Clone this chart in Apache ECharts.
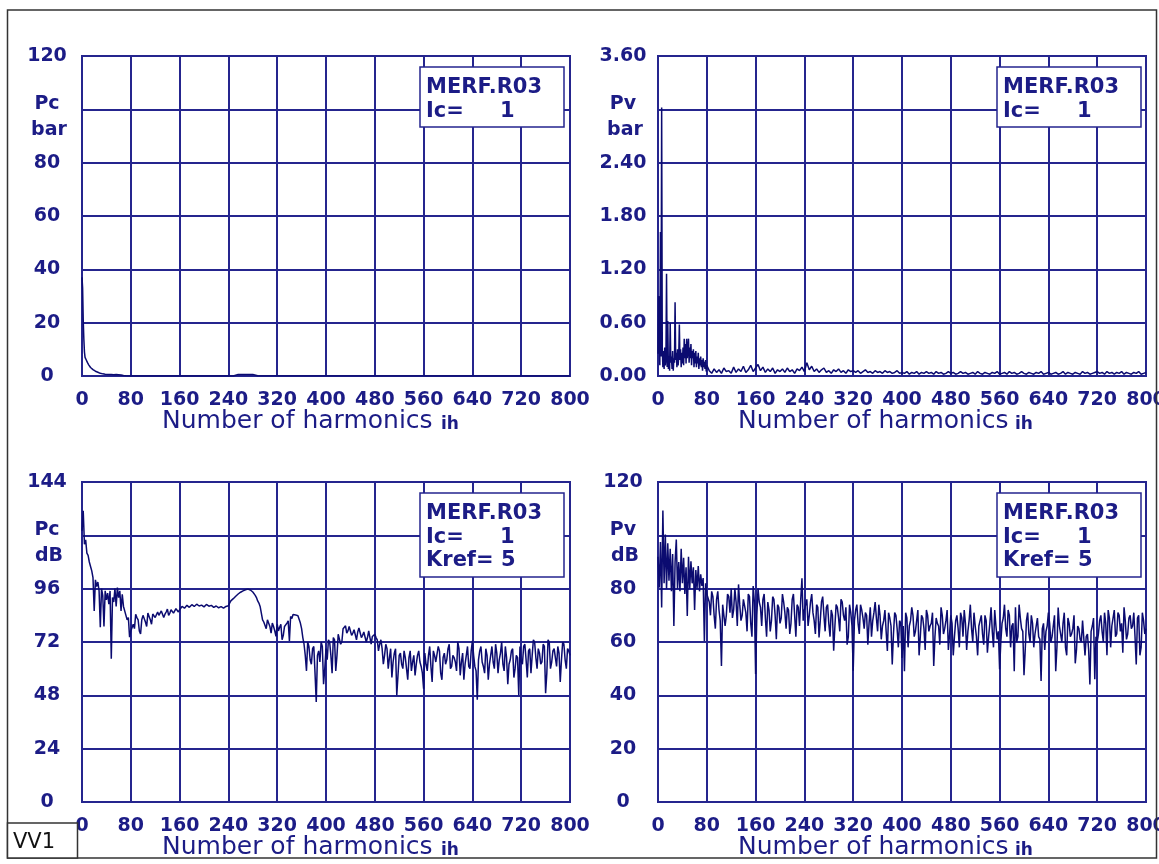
<!DOCTYPE html>
<html><head><meta charset="utf-8">
<script src="https://cdn.jsdelivr.net/npm/echarts@6/dist/echarts.min.js"></script>
<style>html,body{margin:0;padding:0;background:#fff}#c{width:1159px;height:864px}</style>
</head><body><div id="c"></div>
<script>
// ---------------- DATA ----------------
// Tick labels shown on each y axis (the hidden tick carries the unit text instead)
const pcBarLabels = [0, 20, 40, 60, 80, 120];
const pvBarLabels = [0, 0.6, 1.2, 1.8, 2.4, 3.6];
const pcDbLabels  = [0, 24, 48, 72, 96, 144];
const pvDbLabels  = [0, 20, 40, 60, 80, 120];

// Pc [bar] (top-left): harmonic numbers and amplitudes
const pcBarH = [0,1,2,3,4,5,6,7,8,9,10,11,12,13,14,15,16,17,18,19,20,22,24,26,28,30,32,34,36,38,40,44,48,52,56,60,64,68,72,80,248,256,264,272,280,288,800];
const pcBarV = [37,33,21,14,9,7,6.5,6,5.5,5,4.6,4.2,3.8,3.5,3.2,3,2.8,2.6,2.4,2.2,2,1.8,1.6,1.4,1.2,1,0.9,0.8,0.8,0.7,0.7,0.6,0.6,0.5,0.6,0.5,0.4,0.2,0.1,0,0,0.6,0.6,0.6,0.6,0.1,0];

// Pv [bar] (top-right): harmonics 0..80 every 1, then 84..800 every 4
const pvBarHead = [0.25,0.9,0.35,0.12,1.62,0.22,3.02,0.3,0.1,0.28,
  0.08,0.32,0.12,0.2,1.15,0.1,0.62,0.08,0.22,0.06,
  0.6,0.15,0.22,0.08,0.28,0.06,0.2,0.15,0.83,0.18,
  0.26,0.1,0.3,0.12,0.22,0.58,0.18,0.3,0.1,0.26,
  0.14,0.32,0.12,0.42,0.2,0.36,0.14,0.42,0.2,0.3,
  0.42,0.15,0.32,0.2,0.36,0.12,0.28,0.2,0.3,0.1,
  0.26,0.14,0.28,0.1,0.22,0.14,0.26,0.08,0.2,0.12,
  0.22,0.1,0.18,0.06,0.2,0.1,0.16,0.08,0.18,0.05,
  0.12];
const pvBarTail = [0.06,0.03,0.08,0.04,0.07,0.03,0.09,0.05,0.06,0.03,0.1,0.04,0.08,0.05,0.11,0.04,0.07,0.12,0.05,0.09,
  0.13,0.06,0.1,0.04,0.08,0.05,0.09,0.03,0.07,0.05,0.08,0.04,0.09,0.05,0.07,0.03,0.08,0.06,0.1,0.05,
  0.15,0.07,0.11,0.05,0.08,0.04,0.07,0.09,0.04,0.06,0.03,0.07,0.05,0.08,0.04,0.06,0.03,0.07,0.05,0.06,
  0.04,0.06,0.03,0.05,0.07,0.04,0.05,0.03,0.06,0.04,0.05,0.03,0.06,0.04,0.05,0.03,0.04,0.06,0.03,0.04,
  0.03,0.05,0.02,0.04,0.03,0.05,0.02,0.04,0.03,0.05,0.03,0.04,0.02,0.05,0.03,0.04,0.02,0.03,0.05,0.03,
  0.04,0.02,0.03,0.05,0.03,0.04,0.02,0.03,0.04,0.02,0.05,0.03,0.02,0.04,0.03,0.02,0.04,0.03,0.05,0.02,
  0.03,0.04,0.02,0.05,0.03,0.04,0.02,0.03,0.05,0.03,0.02,0.04,0.03,0.02,0.04,0.03,0.05,0.02,0.03,0.04,
  0.02,0.03,0.04,0.02,0.03,0.05,0.02,0.04,0.03,0.02,0.04,0.03,0.02,0.05,0.03,0.04,0.02,0.03,0.04,0.05,
  0.03,0.04,0.02,0.05,0.03,0.04,0.02,0.04,0.03,0.05,0.02,0.04,0.03,0.02,0.04,0.03,0.05,0.02,0.03,0.04];

// Pc [dB] (bottom-left): harmonics 0..80 every 2, 84..800 every 4, plus 86..798 every 4
const pcDbHead = [122,131,116,118,112,111,108,106,104,101,
  86,100,97,99,95,78.6,96,93,79,95,
  91,94,89,95,64.5,92,90,96,88,96.5,
  92,95,86,93.5,88,86,84,82,83,74.2,
  77];
const pcDbTail = [80,84.5,82,75.6,84,81,85,82,84.6,83,85.5,84,86,84.5,86.8,85,87.2,86,87.6,86.5,
  88,87.2,88.5,87.6,88.8,88,89,88.2,88.6,87.8,88.9,88.1,88.5,87.6,88.2,87.4,87.9,87.2,88,88.3,
  90.5,91.5,92.6,93.6,94.4,95,95.5,95.8,95.4,94.5,93,90.5,88,82,80.5,82,79,80.5,77,80,
  78.6,73,79,80.5,72.5,82.5,84,84.6,83,78,71,59,70,62,70,45,68,72,53,69,
  73,66,74,59,75.5,71,78,79.3,77,78.5,76,78,76.5,77.8,75,77,74,76.5,74.5,75.5,
  73,71,69,66,69,65,56,67,48,66,62,68,60,65,59,66,62,68,61,51,
  62,66,61,68,63,70,58,65,62,69,60,66,63,72,57,67,62,70,60,72.5,
  61,46,68,63,58,66,62,70,60,67,64,72,59,65,62,68,56,66,48,63,
  70,64,68,58,73,65,69,62,71,49,73,60,68,65,70,54,72,64,69,66];
const pcDbMid = [78,83,77,82,84,79,83.5,80,85,82.5,84,86,83,85.5,84,86.5,85,87,85.5,
  87,88.6,87.4,89,87.8,88.5,87.9,89.2,88,88.7,87.5,88.4,87.8,88.6,87.3,88.3,87.6,88.4,87.5,88.8,
  89.5,91,92,93.2,94,94.8,95.4,95.8,95.6,95,93.8,92,89.5,85,81,78,81.5,76,79,74.5,
  77,80,75,79,81.5,83.5,84.4,84.2,83.8,80.5,74,66,72,64,69,58,66,63,70,60,
  64,72,58,73,66,76,72,78.5,76,79,75,77.5,73,78.3,74,76.5,72,77,71,74,
  74,68,73,62,71,60,69,63,69,57,67,60,65,55,68,63,57,66,63,58,
  67,59,70,54,66,63,68,55,67,64,71,61,65,59,69,63,55,66,61,68,
  66,59,64,70,61,69,55,66,63,71,58,67,62,70,53,64,69,60,65,70,
  62,71,56,69,66,72,60,67,63,70,58,72,63,69,61,67,64,71,60,68];

// Pv [dB] (bottom-right): harmonics 0..80 every 2, 84..800 every 4, plus 86..798 every 4
const pvDbHead = [92,80.4,97.5,72.9,109.3,82,100.3,80,97,83,
  95,79,93,66,90,98.4,80,90,79,95,
  82,91.6,78,88,69.8,92,80,90.3,82,88,
  72,87,80,88.5,79,85.4,81,84,60.4,82,
  78];
const pvDbTail = [75,79,70,76,72,51,74,70,77,80,72,75,81.6,68,76,71,78,67,81,48,
  80,73,76,69,75,64,77,70,74,67,78,71,73,63,76,70,74,66,83.9,72,
  76,70,78,68,74,61.7,75,70,73,67,72,56.7,74,69,76,70,73,62,71,49.2,
  72,67,74,69,71,59,73,68,75,64,70,66,72,56.6,69,51.6,71,65,68,54,
  49,69,66,73,62,68,55,70,65,72,64,67,51,69,66,73,63,68,57,70,
  55,68,65,71,62,67,64,74,60,66,55,68,63,70,56,67,64,72,61,49.8,
  67,74,62,70,66,49,60,74,65,47.5,68,63,70,58,66,62,45.4,67,64,71,
  60,66,49,72.9,63,67,58,69,62,65,52,66,61,68,55,63,44.1,66,46,60,
  68,64,71,55,69,66,72,63,70,67,73,61,69,65,71,51.6,70,58,68,65];
const pvDbMid = [70,77,65,79,68,74,66,78,71,69,80,66,74,70,76,64,77,62,75,
  70,75,66,78,62,72,68,76,61,73,69,75,65,72,67,78,62,73,76,68,
  72,66,75,71,63,73,68,77,64,74,62,70,66,73,64,75,68,59,74,66,
  68,74,63,72,65,70,67,62,71,69,74,61,68,64,71,66,63,70,58,67,
  66,71,58,68,70,64,72,62,69,57,70,66,71,62,67,59,70,65,72,63,
  67,62,70,58,69,72,57,68,65,71,62,66,70,59,68,62,73,58,66,64,
  60,69,65,72,58,67,73,62,69,64,57,71,60,67,63,69,61,65,57,66,
  67,62,70,58,66,60,71,55,67,63,70,57,65,60,68,62,57,64,69,62,
  63,70,60,67,72,58,66,62,71,64,56,68,63,70,66,62,69,55,71,63];

// ---------------- BUILD ----------------
function seg(start, step, vals) { return vals.map((v, i) => [start + i * step, v]); }
function byH(a, b) { return a[0] - b[0]; }
const pcBarData = pcBarH.map((h, i) => [h, pcBarV[i]]);
const pvBarData = seg(0, 1, pvBarHead).concat(seg(84, 4, pvBarTail));
const pcDbData  = seg(0, 2, pcDbHead).concat(seg(84, 4, pcDbTail), seg(86, 4, pcDbMid)).sort(byH);
const pvDbData  = seg(0, 2, pvDbHead).concat(seg(84, 4, pvDbTail), seg(86, 4, pvDbMid)).sort(byH);

const NAVY = '#25258e', TXT = '#1c1c86', LINE = '#0b0b70';
const FONT = '"DejaVu Sans", "Liberation Sans", sans-serif';

const panels = [
  {left: 82,  top: 56,  max: 120, interval: 20,  labels: pcBarLabels, dec: 0, data: pcBarData, units: ['Pc','bar'], kref: false},
  {left: 658, top: 56,  max: 3.6, interval: 0.6, labels: pvBarLabels, dec: 2, data: pvBarData, units: ['Pv','bar'], kref: false},
  {left: 82,  top: 482, max: 144, interval: 24,  labels: pcDbLabels,  dec: 0, data: pcDbData,  units: ['Pc','dB'],  kref: true},
  {left: 658, top: 482, max: 120, interval: 20,  labels: pvDbLabels,  dec: 0, data: pvDbData,  units: ['Pv','dB'],  kref: true}
];
const PW = 488, PH = 320;

const grids = [], xAxes = [], yAxes = [], series = [], graphics = [];
panels.forEach((p, i) => {
  grids.push({left: p.left, top: p.top, width: PW, height: PH, show: true,
    containLabel: false, outerBoundsMode: 'none',
    borderColor: NAVY, borderWidth: 2, backgroundColor: 'transparent'});
  xAxes.push({gridIndex: i, type: 'value', min: 0, max: 800, interval: 80,
    axisLine: {show: true, onZero: false, lineStyle: {color: NAVY, width: 2}},
    axisTick: {show: false},
    splitLine: {show: true, lineStyle: {color: NAVY, width: 2}},
    axisLabel: {color: TXT, fontFamily: FONT, fontWeight: 'bold', fontSize: 19, margin: 15,
      showMinLabel: true, showMaxLabel: true}});
  yAxes.push({gridIndex: i, type: 'value', min: 0, max: p.max, interval: p.interval,
    axisLine: {show: true, lineStyle: {color: NAVY, width: 2}},
    axisTick: {show: false},
    splitLine: {show: true, lineStyle: {color: NAVY, width: 2}},
    axisLabel: {color: TXT, fontFamily: FONT, fontWeight: 'bold', fontSize: 19,
      align: 'center', margin: 35, padding: [7, 0, 0, 0],
      showMinLabel: true, showMaxLabel: true,
      formatter: v => {
        const hit = p.labels.find(l => Math.abs(l - v) < 1e-6);
        return hit === undefined ? '' : hit.toFixed(p.dec);
      }}});
  series.push({type: 'line', xAxisIndex: i, yAxisIndex: i, data: p.data,
    showSymbol: false, symbol: 'none', silent: true, clip: true,
    lineStyle: {color: LINE, width: 1.5}});

  // unit labels on the y axis
  const cx = p.left - 35;
  graphics.push({type: 'text', x: cx, y: p.top + 48, z: 60,
    style: {text: p.units[0], fill: TXT, font: 'bold 19px ' + FONT, align: 'center', verticalAlign: 'middle'}});
  graphics.push({type: 'text', x: cx + 2, y: p.top + 74, z: 60,
    style: {text: p.units[1], fill: TXT, font: 'bold 19px ' + FONT, align: 'center', verticalAlign: 'middle'}});

  // x axis title
  const ty = p.top + PH + 45;
  graphics.push({type: 'text', x: p.left + 80, y: ty, z: 60,
    style: {text: 'Number of harmonics', fill: TXT, font: '25px ' + FONT, align: 'left', verticalAlign: 'middle'}});
  graphics.push({type: 'text', x: p.left + (i % 2 === 0 ? 359 : 357), y: ty + 4, z: 60,
    style: {text: 'ih', fill: TXT, font: 'bold 17px ' + FONT, align: 'left', verticalAlign: 'middle'}});

  // info box
  const bx = p.left + (i % 2 === 0 ? 338 : 339), by = p.top + 11;
  const bh = p.kref ? 84 : 60;
  graphics.push({type: 'rect', z: 55, shape: {x: bx, y: by, width: 144, height: bh},
    style: {fill: '#fff', stroke: NAVY, lineWidth: 1.5}});
  const lines = [['MERF.R03', ''], ['Ic=', '1']];
  if (p.kref) lines.push(['Kref= 5', '']);
  lines.forEach((ln, k) => {
    const yy = by + 21 + k * 23.5;
    graphics.push({type: 'text', x: bx + 6, y: yy, z: 60,
      style: {text: ln[0], fill: TXT, font: 'bold 21px ' + FONT, align: 'left', verticalAlign: 'middle'}});
    if (ln[1]) graphics.push({type: 'text', x: bx + 80, y: yy, z: 60,
      style: {text: ln[1], fill: TXT, font: 'bold 21px ' + FONT, align: 'left', verticalAlign: 'middle'}});
  });
});

// outer frame and VV1 tag
graphics.push({type: 'rect', z: 70, shape: {x: 7.5, y: 10, width: 1149, height: 848},
  style: {fill: 'none', stroke: '#333', lineWidth: 1.5}});
graphics.push({type: 'rect', z: 70, shape: {x: 7.5, y: 823, width: 70, height: 35},
  style: {fill: '#fff', stroke: '#333', lineWidth: 1.5}});
graphics.push({type: 'text', z: 71, x: 13, y: 843,
  style: {text: 'VV1', fill: '#111', font: '21px ' + FONT, align: 'left', verticalAlign: 'middle'}});

const chart = echarts.init(document.getElementById('c'));
chart.setOption({
  animation: false,
  backgroundColor: '#fff',
  grid: grids, xAxis: xAxes, yAxis: yAxes, series: series,
  graphic: {elements: graphics}
});
</script></body></html>
